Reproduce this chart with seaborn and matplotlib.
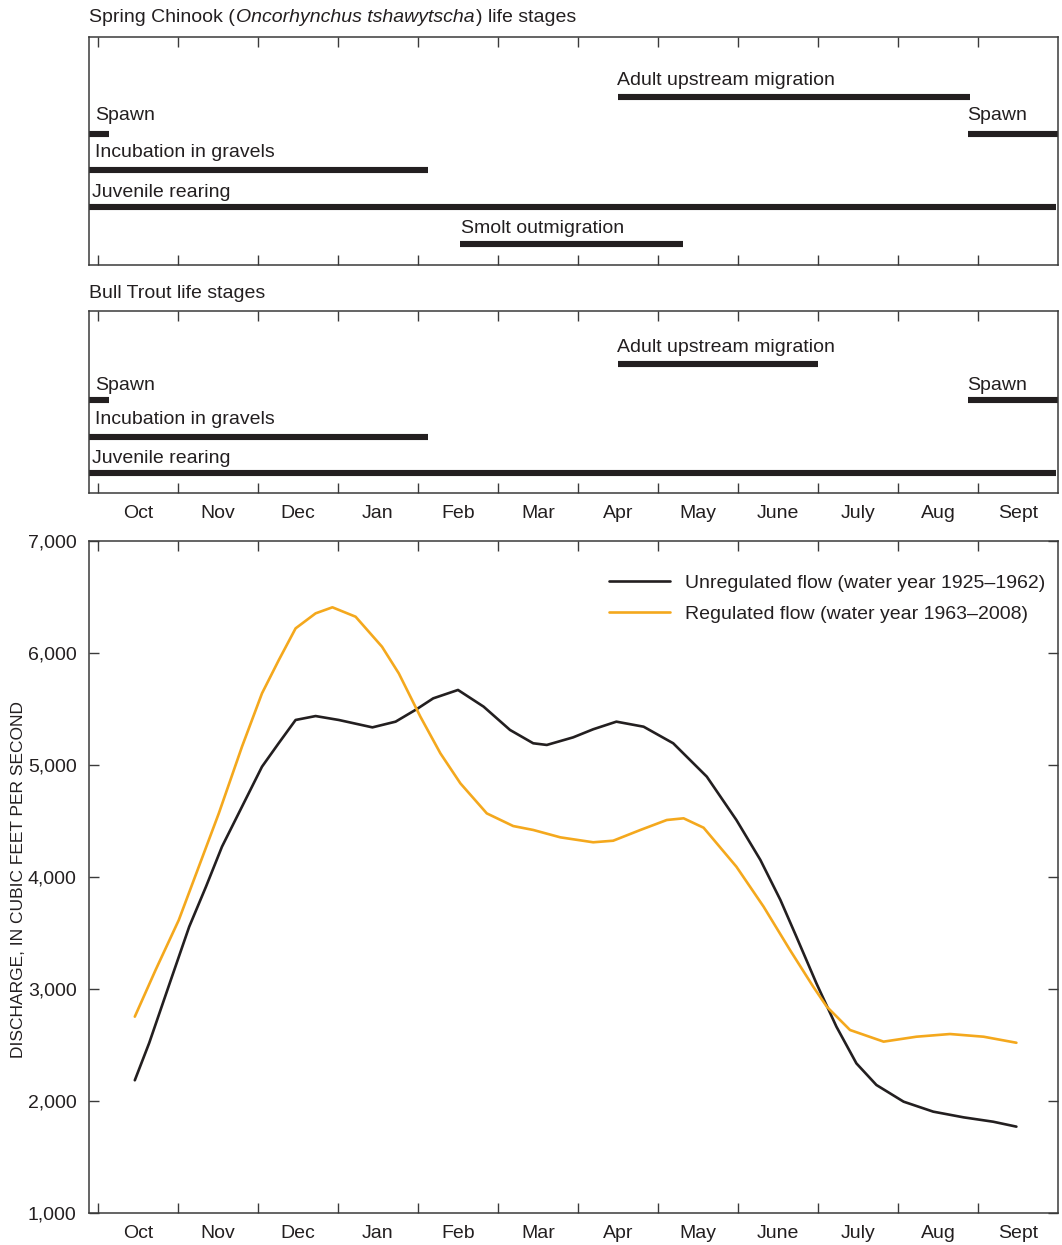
import numpy as np
import pandas as pd
import matplotlib
matplotlib.use("Agg")
import matplotlib.pyplot as plt
import seaborn as sns
from matplotlib.lines import Line2D

# ---------------- data ----------------
months = ["Oct", "Nov", "Dec", "Jan", "Feb", "Mar", "Apr", "May", "June", "July", "Aug", "Sept"]

# life stage bars: label, row, start, end (months since Oct 1)
chinook_labels = ["Adult upstream migration", "Spawn", "Spawn", "Incubation in gravels",
                  "Juvenile rearing", "Smolt outmigration"]
chinook_rows = [0, 1, 1, 2, 3, 4]
chinook_start = [6.5, -0.11, 10.88, -0.11, -0.11, 4.52]
chinook_end = [10.9, 0.14, 12.0, 4.12, 11.98, 7.31]
chinook_label_x = [6.49, -0.04, 10.86, -0.04, -0.075, 4.54]

trout_labels = ["Adult upstream migration", "Spawn", "Spawn", "Incubation in gravels", "Juvenile rearing"]
trout_rows = [0, 1, 1, 2, 3]
trout_start = [6.5, -0.11, 10.88, -0.11, -0.11]
trout_end = [9.0, 0.14, 12.0, 4.12, 11.98]
trout_label_x = [6.49, -0.04, 10.86, -0.04, -0.075]

# discharge, cubic feet per second
unreg_x = [0.46, 0.64, 0.91, 1.14, 1.35, 1.55, 1.80, 2.05, 2.26, 2.47, 2.72, 3.01, 3.43, 3.72,
           3.98, 4.19, 4.50, 4.82, 5.15, 5.44, 5.61, 5.94, 6.19, 6.48, 6.82, 7.19, 7.61, 7.98,
           8.28, 8.53, 8.73, 8.98, 9.23, 9.48, 9.73, 10.07, 10.44, 10.82, 11.19, 11.48]
unreg_q = [2185, 2518, 3080, 3556, 3914, 4271, 4628, 4985, 5196, 5402, 5437, 5402, 5336, 5387,
           5497, 5595, 5670, 5521, 5313, 5194, 5179, 5247, 5319, 5387, 5342, 5194, 4896, 4509,
           4152, 3795, 3467, 3051, 2664, 2336, 2143, 1994, 1905, 1854, 1815, 1771]
reg_x = [0.46, 0.72, 1.01, 1.26, 1.51, 1.80, 2.05, 2.26, 2.47, 2.72, 2.93, 3.22, 3.55, 3.76,
         4.03, 4.28, 4.53, 4.86, 5.19, 5.44, 5.78, 6.19, 6.44, 6.78, 7.11, 7.32, 7.57, 7.98,
         8.32, 8.65, 8.94, 9.11, 9.40, 9.82, 10.23, 10.65, 11.07, 11.48]
reg_q = [2753, 3170, 3616, 4092, 4568, 5164, 5640, 5937, 6220, 6354, 6408, 6324, 6056, 5818,
         5431, 5104, 4836, 4568, 4455, 4420, 4354, 4310, 4324, 4420, 4509, 4524, 4440, 4092,
         3735, 3348, 3021, 2842, 2634, 2530, 2574, 2598, 2574, 2520]
series_names = ["Unregulated flow (water year 1925\u20131962)", "Regulated flow (water year 1963\u20132008)"]
yticks = [1000, 2000, 3000, 4000, 5000, 6000, 7000]

# ---------------- style ----------------
sns.set_theme(style="ticks")
plt.rcParams["font.family"] = ["Liberation Sans", "DejaVu Sans"]
FS = 14
INK = "#231F20"
SPINE = "#3a3a3a"
ORANGE = "#F4A81D"

W, H = 1062, 1245
fig = plt.figure(figsize=(W / 100, H / 100), dpi=100)


def rect(l, t, r, b):
    return [l / W, 1 - b / H, (r - l) / W, (b - t) / H]


ax1 = fig.add_axes(rect(89, 37, 1058, 265))
ax2 = fig.add_axes(rect(89, 311, 1058, 493))
ax3 = fig.add_axes(rect(89, 541, 1058, 1213))

XMIN, XMAX = -0.1125, 12.0


def style_axes(ax, month_labels):
    ax.set_xlim(XMIN, XMAX)
    for s in ax.spines.values():
        s.set_visible(True)
        s.set_color(SPINE)
        s.set_linewidth(1.1)
    ax.set_xticks(range(0, 12))
    ax.set_xticks([m + 0.5 for m in range(12)], minor=True)
    ax.tick_params(axis="x", which="major", direction="in", top=True, bottom=True,
                   length=7.5, width=1.0, color=SPINE, labelbottom=False)
    if month_labels:
        ax.set_xticklabels(months, minor=True)
        ax.tick_params(axis="x", which="minor", length=0, pad=9, labelsize=FS, labelcolor=INK)
    else:
        ax.tick_params(axis="x", which="minor", length=0, labelbottom=False)
    ax.set_facecolor("white")


def gantt(ax, rows, starts, ends, labels, label_x, row_dy, nrows, top_extra, bottom_extra):
    ax.hlines(rows, starts, ends, colors=INK, linewidth=4.4, capstyle="butt")
    for r, lx, lab in zip(rows, label_x, labels):
        ax.annotate(lab, xy=(lx, r), xytext=(0, row_dy[r]), textcoords="offset points",
                    ha="left", va="baseline", fontsize=FS, color=INK)
    ax.set_ylim(nrows - 1 + bottom_extra, -top_extra)
    ax.set_yticks([])


style_axes(ax1, False)
gantt(ax1, chinook_rows, chinook_start, chinook_end, chinook_labels, chinook_label_x,
      [8.5, 10, 10, 7.7, 7.7], 5, 1.63, 0.57)
style_axes(ax2, True)
gantt(ax2, trout_rows, trout_start, trout_end, trout_labels, trout_label_x,
      [8.5, 7, 9, 7], 4, 1.45, 0.55)

# ---------------- discharge chart ----------------
df = pd.concat([
    pd.DataFrame({"month": unreg_x, "q": unreg_q, "series": series_names[0]}),
    pd.DataFrame({"month": reg_x, "q": reg_q, "series": series_names[1]}),
])
sns.lineplot(data=df, x="month", y="q", hue="series", palette=[INK, ORANGE],
             linewidth=1.9, ax=ax3, legend=False, sort=True, estimator=None)
for ln in ax3.get_lines():
    ln.set_solid_joinstyle("round")
    ln.set_solid_capstyle("round")
style_axes(ax3, True)
ax3.set_ylim(1000, 7000)
ax3.set_yticks(yticks)
ax3.set_yticklabels([f"{v:,}" for v in yticks])
ax3.tick_params(axis="y", direction="in", left=True, right=True, length=7.5, width=1.0,
                color=SPINE, labelsize=FS, labelcolor=INK, pad=9)
ax3.set_xlabel("")
ax3.set_ylabel("")

handles = [Line2D([], [], color=INK, linewidth=1.9), Line2D([], [], color=ORANGE, linewidth=1.9)]
leg = ax3.legend(handles, series_names, loc="upper left", bbox_to_anchor=(0.529, 0.962),
                 frameon=False, fontsize=FS, handlelength=3.1, handletextpad=0.8,
                 labelspacing=0.68, borderaxespad=0)
for t in leg.get_texts():
    t.set_color(INK)

fig.text(19 / W, 1 - 880 / H, "DISCHARGE, IN CUBIC FEET PER SECOND", rotation=90,
         ha="center", va="center", fontsize=12.5, color=INK)

# ---------------- titles ----------------
fig.text(89 / W, 1 - 293 / H, "Bull Trout life stages", ha="left", va="center", fontsize=FS, color=INK)

fig.canvas.draw()
renderer = fig.canvas.get_renderer()
ty = 1 - 22 / H
t1 = fig.text(89 / W, ty, "Spring Chinook (", ha="left", va="baseline", fontsize=FS, color=INK)
bb = t1.get_window_extent(renderer)
t2 = fig.text(bb.x1 / W + 1 / W, ty, "Oncorhynchus tshawytscha", ha="left", va="baseline",
              fontsize=FS, color=INK, style="italic")
bb2 = t2.get_window_extent(renderer)
fig.text(bb2.x1 / W + 1 / W, ty, ") life stages", ha="left", va="baseline", fontsize=FS, color=INK)

fig.savefig("out.png", dpi=100, facecolor="white")
